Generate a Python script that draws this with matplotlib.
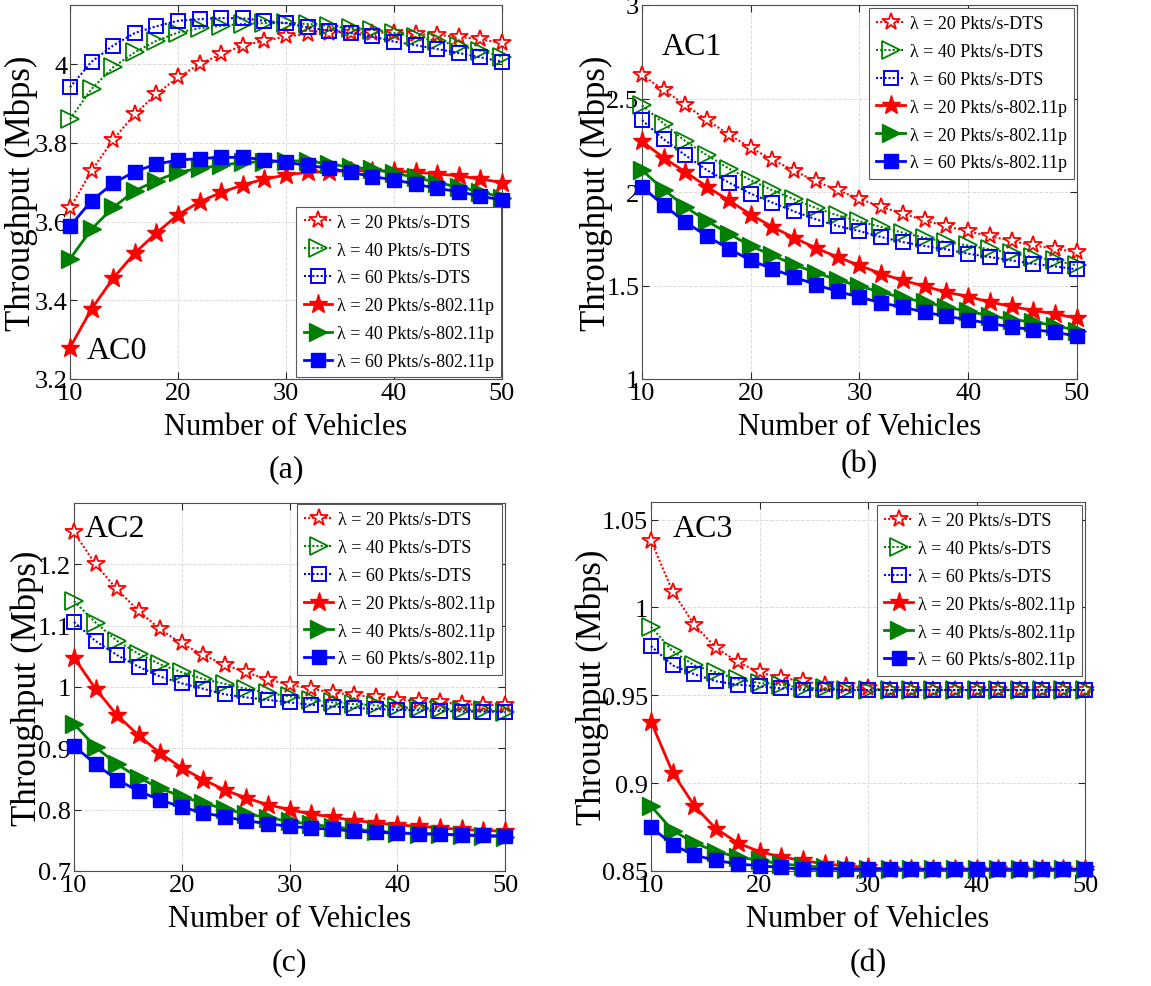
import matplotlib
matplotlib.use("Agg")
import matplotlib.pyplot as plt
import numpy as np

plt.rcParams["font.family"] = ["Liberation Serif", "DejaVu Serif"]
plt.rcParams["mathtext.fontset"] = "stix"

vehicles = list(range(10, 51, 2))

series_labels = [
    "λ = 20 Pkts/s-DTS",
    "λ = 40 Pkts/s-DTS",
    "λ = 60 Pkts/s-DTS",
    "λ = 20 Pkts/s-802.11p",
    "λ = 40 Pkts/s-802.11p",
    "λ = 60 Pkts/s-802.11p",
]
# panel (b) repeats the 20 Pkts/s label on its second 802.11p entry
series_labels_b = series_labels[:4] + ["λ = 20 Pkts/s-802.11p", series_labels[5]]

# AC0 throughput (Mbps)
ac0_dts20 = [3.634, 3.729, 3.808, 3.873, 3.924, 3.966, 4.000, 4.025, 4.047, 4.059, 4.070,
             4.076, 4.080, 4.080, 4.080, 4.079, 4.076, 4.074, 4.069, 4.063, 4.053]
ac0_dts40 = [3.860, 3.937, 3.992, 4.030, 4.059, 4.080, 4.091, 4.097, 4.102, 4.104, 4.104,
             4.102, 4.097, 4.091, 4.087, 4.079, 4.068, 4.059, 4.047, 4.034, 4.019]
ac0_dts60 = [3.941, 4.006, 4.047, 4.079, 4.096, 4.110, 4.114, 4.117, 4.116, 4.110, 4.104,
             4.093, 4.085, 4.079, 4.070, 4.057, 4.048, 4.038, 4.028, 4.017, 4.006]
ac0_p20 = [3.280, 3.378, 3.456, 3.520, 3.571, 3.617, 3.650, 3.674, 3.693, 3.708, 3.718,
           3.725, 3.727, 3.729, 3.729, 3.729, 3.725, 3.721, 3.716, 3.708, 3.699]
ac0_p40 = [3.505, 3.581, 3.636, 3.678, 3.704, 3.725, 3.735, 3.743, 3.750, 3.752, 3.754,
           3.754, 3.746, 3.738, 3.733, 3.723, 3.712, 3.699, 3.687, 3.676, 3.661]
ac0_p60 = [3.588, 3.653, 3.697, 3.727, 3.746, 3.756, 3.760, 3.763, 3.763, 3.757, 3.750,
           3.743, 3.735, 3.725, 3.714, 3.706, 3.695, 3.684, 3.676, 3.664, 3.655]

# AC1 throughput (Mbps)
ac1_dts20 = [2.625, 2.545, 2.464, 2.384, 2.307, 2.236, 2.173, 2.113, 2.057, 2.009, 1.964,
             1.920, 1.884, 1.848, 1.816, 1.789, 1.764, 1.738, 1.714, 1.696, 1.679]
ac1_dts40 = [2.464, 2.366, 2.271, 2.196, 2.125, 2.063, 2.009, 1.961, 1.914, 1.875, 1.843,
             1.813, 1.782, 1.755, 1.732, 1.714, 1.693, 1.673, 1.652, 1.634, 1.607]
ac1_dts60 = [2.384, 2.282, 2.196, 2.116, 2.050, 1.991, 1.943, 1.896, 1.854, 1.818, 1.791,
             1.759, 1.732, 1.711, 1.693, 1.670, 1.652, 1.634, 1.616, 1.602, 1.586]
ac1_p20 = [2.271, 2.182, 2.107, 2.027, 1.955, 1.879, 1.813, 1.755, 1.700, 1.652, 1.607,
           1.563, 1.527, 1.496, 1.464, 1.441, 1.411, 1.388, 1.366, 1.348, 1.325]
ac1_p40 = [2.116, 2.013, 1.920, 1.843, 1.777, 1.711, 1.661, 1.611, 1.568, 1.530, 1.496,
           1.464, 1.434, 1.411, 1.384, 1.361, 1.339, 1.318, 1.304, 1.286, 1.259]
ac1_p60 = [2.027, 1.929, 1.839, 1.763, 1.696, 1.634, 1.589, 1.545, 1.504, 1.468, 1.438,
           1.407, 1.384, 1.357, 1.336, 1.316, 1.298, 1.277, 1.264, 1.250, 1.229]

# AC2 throughput (Mbps)
ac2_dts20 = [1.252, 1.200, 1.159, 1.124, 1.094, 1.071, 1.052, 1.036, 1.024, 1.012, 1.004,
             0.997, 0.991, 0.987, 0.983, 0.979, 0.977, 0.975, 0.972, 0.971, 0.970]
ac2_dts40 = [1.140, 1.105, 1.075, 1.054, 1.037, 1.024, 1.013, 1.005, 0.997, 0.990, 0.985,
             0.979, 0.975, 0.972, 0.970, 0.967, 0.965, 0.964, 0.963, 0.962, 0.960]
ac2_dts60 = [1.106, 1.075, 1.052, 1.033, 1.017, 1.006, 0.997, 0.988, 0.983, 0.979, 0.975,
             0.971, 0.968, 0.966, 0.964, 0.963, 0.962, 0.961, 0.960, 0.960, 0.959]
ac2_p20 = [1.048, 0.997, 0.954, 0.921, 0.892, 0.868, 0.849, 0.832, 0.819, 0.808, 0.800,
           0.793, 0.788, 0.782, 0.779, 0.775, 0.773, 0.770, 0.768, 0.766, 0.765]
ac2_p40 = [0.940, 0.902, 0.874, 0.852, 0.835, 0.821, 0.811, 0.801, 0.793, 0.787, 0.781,
           0.776, 0.772, 0.768, 0.765, 0.762, 0.761, 0.760, 0.758, 0.757, 0.756]
ac2_p60 = [0.904, 0.874, 0.849, 0.830, 0.816, 0.804, 0.795, 0.788, 0.782, 0.777, 0.773,
           0.770, 0.768, 0.765, 0.763, 0.762, 0.761, 0.760, 0.759, 0.758, 0.757]

# AC3 throughput (Mbps)
ac3_dts20 = [1.038, 1.009, 0.990, 0.977, 0.969, 0.963, 0.960, 0.958, 0.956, 0.955, 0.954,
             0.953, 0.953, 0.953, 0.953, 0.953, 0.953, 0.953, 0.953, 0.953, 0.953]
ac3_dts40 = [0.989, 0.975, 0.967, 0.963, 0.959, 0.957, 0.956, 0.954, 0.954, 0.953, 0.953,
             0.953, 0.953, 0.953, 0.953, 0.953, 0.953, 0.953, 0.953, 0.953, 0.953]
ac3_dts60 = [0.978, 0.967, 0.962, 0.958, 0.956, 0.955, 0.954, 0.953, 0.953, 0.953, 0.953,
             0.953, 0.953, 0.953, 0.953, 0.953, 0.953, 0.953, 0.953, 0.953, 0.953]
ac3_p20 = [0.935, 0.906, 0.887, 0.874, 0.866, 0.861, 0.858, 0.856, 0.854, 0.853, 0.852,
           0.851, 0.851, 0.851, 0.851, 0.851, 0.851, 0.851, 0.851, 0.851, 0.851]
ac3_p40 = [0.887, 0.873, 0.866, 0.861, 0.858, 0.856, 0.854, 0.853, 0.852, 0.851, 0.851,
           0.851, 0.851, 0.851, 0.851, 0.851, 0.851, 0.851, 0.851, 0.851, 0.851]
ac3_p60 = [0.875, 0.865, 0.859, 0.856, 0.854, 0.853, 0.852, 0.851, 0.851, 0.851, 0.851,
           0.851, 0.851, 0.851, 0.851, 0.851, 0.851, 0.851, 0.851, 0.851, 0.851]

RED = (1.0, 0.0, 0.0)
GREEN = (0.0, 0.5, 0.0)
BLUE = (0.0, 0.0, 1.0)

styles = [
    dict(color=RED, ls=(0, (1, 1)), lw=1.5, marker="*", ms=13, mfc="white", mew=1.3),
    dict(color=GREEN, ls=(0, (1, 1)), lw=1.5, marker=">", ms=13, mfc="none", mew=1.3),
    dict(color=BLUE, ls=(0, (1, 1)), lw=1.5, marker="s", ms=10, mfc="none", mew=1.4),
    dict(color=RED, ls="-", lw=2.0, marker="*", ms=14, mfc=RED, mew=1.0),
    dict(color=GREEN, ls="-", lw=2.0, marker=">", ms=13, mfc=GREEN, mew=1.0),
    dict(color=BLUE, ls="-", lw=2.0, marker="s", ms=10, mfc=BLUE, mew=1.0),
]

W, H = 1151, 987
fig = plt.figure(figsize=(W / 100, H / 100), dpi=100)


def axes_px(left, top, right, bottom):
    return fig.add_axes([left / W, 1 - bottom / H, (right - left) / W, (bottom - top) / H])


panels = [
    dict(rect=(70, 6, 502, 380), data=[ac0_dts20, ac0_dts40, ac0_dts60, ac0_p20, ac0_p40, ac0_p60],
         labels=series_labels, ylim=(3.2, 4.15), yticks=[3.2, 3.4, 3.6, 3.8, 4.0],
         yticklabels=["3.2", "3.4", "3.6", "3.8", "4"],
         tag="AC0", tag_xy=(0.039, 0.075), legend_loc="lower right", legend_anchor=(0.998, 0.005),
         sub="(a)", sub_y=-0.24, ylab_x=-0.113, xlab_y=-0.128),
    dict(rect=(642, 6, 1077, 380), data=[ac1_dts20, ac1_dts40, ac1_dts60, ac1_p20, ac1_p40, ac1_p60],
         labels=series_labels_b, ylim=(1.0, 3.0), yticks=[1.0, 1.5, 2.0, 2.5, 3.0],
         yticklabels=["1", "1.5", "2", "2.5", "3"],
         tag="AC1", tag_xy=(0.046, 0.888), legend_loc="upper right", legend_anchor=(0.993, 0.992),
         sub="(b)", sub_y=-0.227, ylab_x=-0.106, xlab_y=-0.128),
    dict(rect=(74, 504, 505, 872), data=[ac2_dts20, ac2_dts40, ac2_dts60, ac2_p20, ac2_p40, ac2_p60],
         labels=series_labels, ylim=(0.7, 1.3), yticks=[0.7, 0.8, 0.9, 1.0, 1.1, 1.2],
         yticklabels=["0.7", "0.8", "0.9", "1", "1.1", "1.2"],
         tag="AC2", tag_xy=(0.026, 0.932), legend_loc="upper right", legend_anchor=(0.993, 0.997),
         sub="(c)", sub_y=-0.247, ylab_x=-0.109, xlab_y=-0.130),
    dict(rect=(651, 503, 1085, 872), data=[ac3_dts20, ac3_dts40, ac3_dts60, ac3_p20, ac3_p40, ac3_p60],
         labels=series_labels, ylim=(0.85, 1.06), yticks=[0.85, 0.9, 0.95, 1.0, 1.05],
         yticklabels=["0.85", "0.9", "0.95", "1", "1.05"],
         tag="AC3", tag_xy=(0.051, 0.927), legend_loc="upper right", legend_anchor=(0.993, 0.992),
         sub="(d)", sub_y=-0.247, ylab_x=-0.136, xlab_y=-0.130),
]

for p in panels:
    ax = axes_px(*p["rect"])
    for values, label, st in zip(p["data"], p["labels"], styles):
        ax.plot(vehicles, values, label=label, clip_on=False, zorder=3,
                color=st["color"], linestyle=st["ls"], linewidth=st["lw"],
                marker=st["marker"], markersize=st["ms"], markerfacecolor=st["mfc"],
                markeredgecolor=st["color"], markeredgewidth=st["mew"])
    ax.set_xlim(10, 50)
    ax.set_ylim(*p["ylim"])
    ax.set_xticks([10, 20, 30, 40, 50])
    ax.set_yticks(p["yticks"])
    ax.set_yticklabels(p["yticklabels"])
    ax.grid(True, color="0.86", linestyle="--", linewidth=0.7)
    ax.set_axisbelow(True)
    ax.tick_params(direction="in", length=5, width=0.8, top=True, right=True,
                   labelsize=19, pad=2, colors="0.15", labelcolor="black")
    for s in ax.spines.values():
        s.set_color("0.3")
        s.set_linewidth(0.8)

    ax.set_xlabel("Number of Vehicles", fontsize=22)
    ax.xaxis.label.set_va("center")
    ax.xaxis.set_label_coords(0.5, p["xlab_y"])
    ax.set_ylabel("Throughput (Mbps)", fontsize=25)
    ax.yaxis.label.set_va("center")
    ax.yaxis.set_label_coords(p["ylab_x"], 0.5)

    ax.text(p["tag_xy"][0], p["tag_xy"][1], p["tag"], transform=ax.transAxes,
            fontsize=23, ha="left", va="center")
    ax.text(0.5, p["sub_y"], p["sub"], transform=ax.transAxes,
            fontsize=23, ha="center", va="center")

    leg = ax.legend(loc=p["legend_loc"], bbox_to_anchor=p["legend_anchor"], borderaxespad=0,
                    fontsize=13, handlelength=1.6, handletextpad=0.25, labelspacing=0.6,
                    borderpad=0.4, fancybox=False, framealpha=1, edgecolor="0.35")
    leg.get_frame().set_linewidth(0.8)

fig.savefig("out.png", dpi=100)
